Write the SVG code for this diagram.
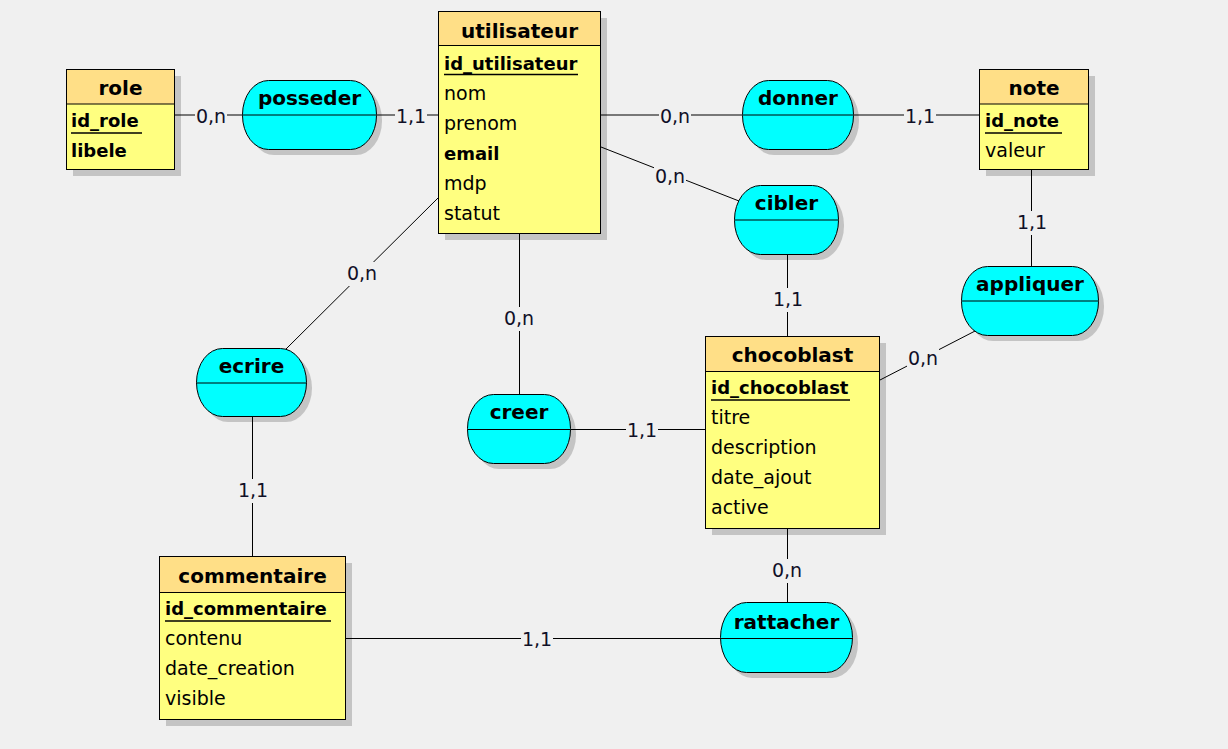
<svg xmlns="http://www.w3.org/2000/svg" width="1228" height="749" viewBox="0 0 1228 749">
<style>
text{font-family:"DejaVu Sans","Liberation Sans",sans-serif;fill:#000}
.title{font-size:20px;font-weight:bold;text-anchor:middle}
.attr{font-size:19px}
.key{font-size:18px;font-weight:bold}
.aname{font-size:20px;font-weight:bold;text-anchor:middle}
.card{font-size:19px;text-anchor:middle;fill:#101028}
.bg{fill:#f0f0f0}
.sh{fill:#c4c4c4}
.hd{fill:#ffdf87;stroke:#000;stroke-width:1}
.bd{fill:#ffff80;stroke:#000;stroke-width:1}
.as{fill:#00ffff;stroke:#000;stroke-width:1}
.ln{stroke:#000;stroke-width:1;fill:none}
.ul{stroke:#000;stroke-width:1.5}
</style>
<rect width="1228" height="749" fill="#f0f0f0"/>

<g id="shadows" class="sh">
<rect x="73" y="76" width="108" height="100"/>
<rect x="445" y="18" width="162" height="222"/>
<rect x="986" y="76" width="109" height="100"/>
<rect x="712" y="343" width="174" height="192"/>
<rect x="166" y="563" width="186" height="163"/>
<rect x="248" y="86" width="134" height="69" rx="26" ry="34"/>
<rect x="748" y="86" width="111" height="69" rx="26" ry="34"/>
<rect x="740" y="191" width="104" height="69" rx="26" ry="34"/>
<rect x="967" y="272" width="137" height="69" rx="26" ry="34"/>
<rect x="202" y="354" width="110" height="68" rx="26" ry="34"/>
<rect x="473" y="400" width="103" height="69" rx="26" ry="34"/>
<rect x="726" y="608" width="132" height="70" rx="26" ry="35"/>
</g>

<g id="connectors" class="ln">
<line x1="175" y1="115" x2="243" y2="115"/>
<line x1="377" y1="115" x2="438" y2="115"/>
<line x1="601" y1="115" x2="742" y2="115"/>
<line x1="854" y1="115" x2="979" y2="115"/>
<line x1="601" y1="147" x2="739" y2="201"/>
<line x1="787.5" y1="255" x2="787.5" y2="336"/>
<line x1="1031.5" y1="170" x2="1031.5" y2="267"/>
<line x1="880" y1="380" x2="977" y2="330"/>
<line x1="438" y1="198" x2="285" y2="350"/>
<line x1="252.5" y1="417" x2="252.5" y2="557"/>
<line x1="519.5" y1="234" x2="519.5" y2="394"/>
<line x1="571" y1="429.5" x2="705" y2="429.5"/>
<line x1="787.5" y1="529" x2="787.5" y2="603"/>
<line x1="346" y1="638.5" x2="721" y2="638.5"/>
</g>

<g id="labels">
<rect class="bg" x="195" y="106" width="32" height="20"/><text class="card" x="211" y="123">0,n</text>
<rect class="bg" x="395" y="106" width="32" height="20"/><text class="card" x="411" y="123">1,1</text>
<rect class="bg" x="659" y="106" width="32" height="20"/><text class="card" x="675" y="123">0,n</text>
<rect class="bg" x="904" y="106" width="32" height="20"/><text class="card" x="920" y="123">1,1</text>
<rect class="bg" x="654" y="166" width="32" height="20"/><text class="card" x="670" y="183">0,n</text>
<rect class="bg" x="772" y="288" width="32" height="24"/><text class="card" x="788" y="306">1,1</text>
<rect class="bg" x="1016" y="211" width="32" height="24"/><text class="card" x="1032" y="229">1,1</text>
<rect class="bg" x="907" y="348" width="32" height="20"/><text class="card" x="923" y="365">0,n</text>
<rect class="bg" x="346" y="262" width="32" height="24"/><text class="card" x="362" y="280">0,n</text>
<rect class="bg" x="237" y="479" width="32" height="24"/><text class="card" x="253" y="497">1,1</text>
<rect class="bg" x="503" y="307" width="32" height="24"/><text class="card" x="519" y="325">0,n</text>
<rect class="bg" x="626" y="420" width="32" height="20"/><text class="card" x="642" y="437">1,1</text>
<rect class="bg" x="771" y="559" width="32" height="24"/><text class="card" x="787" y="577">0,n</text>
<rect class="bg" x="521" y="629" width="32" height="20"/><text class="card" x="537" y="646">1,1</text>
</g>

<g id="role">
<rect class="bd" x="66.5" y="69.5" width="108" height="100"/>
<rect class="hd" x="66.5" y="69.5" width="108" height="34.5"/>
<text class="title" x="120.5" y="95">role</text>
<text class="key" x="71" y="127">id_role</text>
<line class="ul" x1="71" y1="133" x2="142" y2="133"/>
<text class="key" x="71" y="157">libele</text>
</g>

<g id="utilisateur">
<rect class="bd" x="438.5" y="11.5" width="162" height="222"/>
<rect class="hd" x="438.5" y="11.5" width="162" height="34"/>
<text class="title" x="519.5" y="38">utilisateur</text>
<text class="key" x="444" y="70">id_utilisateur</text>
<line class="ul" x1="444" y1="74.5" x2="578" y2="74.5"/>
<text class="attr" x="444" y="100">nom</text>
<text class="attr" x="444" y="130">prenom</text>
<text class="key" x="444" y="160">email</text>
<text class="attr" x="444" y="190">mdp</text>
<text class="attr" x="444" y="220">statut</text>
</g>

<g id="note">
<rect class="bd" x="979.5" y="69.5" width="109" height="100"/>
<rect class="hd" x="979.5" y="69.5" width="109" height="34.5"/>
<text class="title" x="1034" y="95">note</text>
<text class="key" x="985" y="127">id_note</text>
<line class="ul" x1="985" y1="133" x2="1062" y2="133"/>
<text class="attr" x="985" y="157">valeur</text>
</g>

<g id="chocoblast">
<rect class="bd" x="705.5" y="336.5" width="174" height="192"/>
<rect class="hd" x="705.5" y="336.5" width="174" height="35"/>
<text class="title" x="792.5" y="362">chocoblast</text>
<text class="key" x="711" y="394">id_chocoblast</text>
<line class="ul" x1="711" y1="400" x2="850" y2="400"/>
<text class="attr" x="711" y="424">titre</text>
<text class="attr" x="711" y="454">description</text>
<text class="attr" x="711" y="484">date_ajout</text>
<text class="attr" x="711" y="514">active</text>
</g>

<g id="commentaire">
<rect class="bd" x="159.5" y="556.5" width="186" height="163"/>
<rect class="hd" x="159.5" y="556.5" width="186" height="36"/>
<text class="title" x="252.5" y="583">commentaire</text>
<text class="key" x="165" y="615">id_commentaire</text>
<line class="ul" x1="165" y1="621" x2="331" y2="621"/>
<text class="attr" x="165" y="645">contenu</text>
<text class="attr" x="165" y="675">date_creation</text>
<text class="attr" x="165" y="705">visible</text>
</g>

<g id="posseder">
<rect class="as" x="242.5" y="80.5" width="134" height="69" rx="26" ry="34"/>
<line class="ln" x1="242.5" y1="115" x2="376.5" y2="115"/>
<text class="aname" x="309.5" y="105">posseder</text>
</g>

<g id="donner">
<rect class="as" x="742.5" y="80.5" width="111" height="69" rx="26" ry="34"/>
<line class="ln" x1="742.5" y1="115" x2="853.5" y2="115"/>
<text class="aname" x="798" y="105">donner</text>
</g>

<g id="cibler">
<rect class="as" x="734.5" y="185.5" width="104" height="69" rx="26" ry="34"/>
<line class="ln" x1="734.5" y1="220" x2="838.5" y2="220"/>
<text class="aname" x="786.5" y="210">cibler</text>
</g>

<g id="appliquer">
<rect class="as" x="961.5" y="266.5" width="137" height="69" rx="26" ry="34"/>
<line class="ln" x1="961.5" y1="301" x2="1098.5" y2="301"/>
<text class="aname" x="1030" y="291">appliquer</text>
</g>

<g id="ecrire">
<rect class="as" x="196.5" y="348.5" width="110" height="68" rx="26" ry="34"/>
<line class="ln" x1="196.5" y1="383" x2="306.5" y2="383"/>
<text class="aname" x="251.5" y="373">ecrire</text>
</g>

<g id="creer">
<rect class="as" x="467.5" y="394.5" width="103" height="69" rx="26" ry="34"/>
<line class="ln" x1="467.5" y1="429.5" x2="570.5" y2="429.5"/>
<text class="aname" x="519" y="419">creer</text>
</g>

<g id="rattacher">
<rect class="as" x="720.5" y="602.5" width="132" height="70" rx="26" ry="35"/>
<line class="ln" x1="720.5" y1="638.5" x2="852.5" y2="638.5"/>
<text class="aname" x="786.5" y="629">rattacher</text>
</g>
</svg>
